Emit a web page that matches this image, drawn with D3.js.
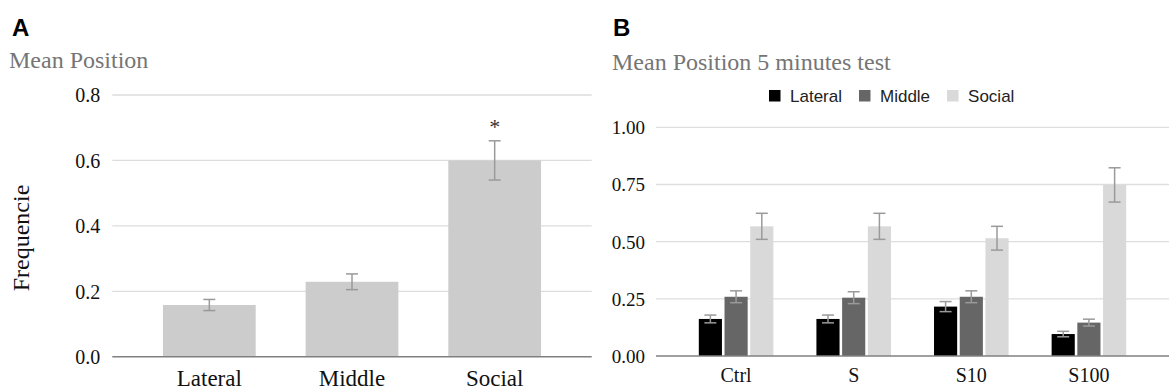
<!DOCTYPE html>
<html>
<head>
<meta charset="utf-8">
<script src="https://cdn.jsdelivr.net/npm/d3@7"></script>
<style>
  html, body { margin: 0; padding: 0; background: #fff; }
  svg { display: block; }
</style>
</head>
<body>
<svg id="chart" width="1173" height="392"></svg>
<script>
// ---------- Data ----------
const catsA = ["Lateral", "Middle", "Social"];
const meanA = [0.158, 0.229, 0.600];
const errA  = [0.017, 0.024, 0.060];
const ticksA = [0, 0.2, 0.4, 0.6, 0.8];

const groupsB = ["Ctrl", "S", "S10", "S100"];
const seriesB = ["Lateral", "Middle", "Social"];
const lateralB    = [0.162, 0.162, 0.216, 0.096];
const lateralErrB = [0.017, 0.017, 0.022, 0.012];
const middleB     = [0.259, 0.255, 0.259, 0.146];
const middleErrB  = [0.026, 0.026, 0.026, 0.015];
const socialB     = [0.567, 0.567, 0.515, 0.748];
const socialErrB  = [0.057, 0.057, 0.052, 0.075];
const ticksB = [0, 0.25, 0.5, 0.75, 1.0];

// ---------- Styling ----------
const SERIF = "'Liberation Serif','Times New Roman',Times,serif";
const SANS  = "'Liberation Sans',Arial,Helvetica,sans-serif";
const colorsB = { Lateral: "#000000", Middle: "#666666", Social: "#d9d9d9" };
const gridColor = "#dddddd";
const axisColor = "#808080";
const errColor = "#9a9a9a";

const svg = d3.select("#chart");

// ================= Panel A =================
const yA = d3.scaleLinear().domain([0, 0.8]).range([356.7, 95]);
const xA = d3.scaleBand().domain(catsA).range([112.3, 591.7])
  .paddingInner(0.35).paddingOuter(0.355);

const gA = svg.append("g");

svg.append("text").attr("x", 12).attr("y", 36)
  .attr("font-family", SANS).attr("font-weight", "bold").attr("font-size", 24)
  .attr("fill", "#000").text("A");
svg.append("text").attr("x", 9).attr("y", 68)
  .attr("font-family", SERIF).attr("font-size", 24)
  .attr("fill", "#757575").text("Mean Position");

// gridlines
gA.selectAll("line.grid").data(ticksA.filter(t => t > 0)).join("line")
  .attr("x1", xA.range()[0]).attr("x2", xA.range()[1])
  .attr("y1", d => yA(d)).attr("y2", d => yA(d))
  .attr("stroke", gridColor).attr("stroke-width", 1.3);

// y axis labels
const axA = d3.axisLeft(yA).tickValues(ticksA).tickFormat(d3.format(".1f")).tickSize(0).tickPadding(12);
const gyA = gA.append("g").attr("transform", `translate(${xA.range()[0]},0)`).call(axA);
gyA.select(".domain").remove();
gyA.attr("font-family", SERIF);
gyA.selectAll("text").attr("font-family", SERIF).attr("font-size", 20).attr("fill", "#111").attr("dy", "0.34em");

// bars
const dataA = catsA.map((c, i) => ({ c, v: meanA[i], e: errA[i] }));
gA.selectAll("rect.bar").data(dataA).join("rect")
  .attr("x", d => xA(d.c)).attr("width", xA.bandwidth())
  .attr("y", d => yA(d.v)).attr("height", d => yA(0) - yA(d.v))
  .attr("fill", "#cccccc");

// error bars
const capA = 12;
dataA.forEach(d => {
  const cx = xA(d.c) + xA.bandwidth() / 2;
  const g = gA.append("g").attr("stroke", errColor).attr("stroke-width", 1.5);
  g.append("line").attr("x1", cx).attr("x2", cx).attr("y1", yA(d.v + d.e)).attr("y2", yA(d.v - d.e));
  g.append("line").attr("x1", cx - capA / 2).attr("x2", cx + capA / 2).attr("y1", yA(d.v + d.e)).attr("y2", yA(d.v + d.e));
  g.append("line").attr("x1", cx - capA / 2).attr("x2", cx + capA / 2).attr("y1", yA(d.v - d.e)).attr("y2", yA(d.v - d.e));
});

// significance star
gA.append("text").attr("x", xA("Social") + xA.bandwidth() / 2).attr("y", yA(meanA[2] + errA[2]) - 7)
  .attr("text-anchor", "middle").attr("font-family", SERIF).attr("font-size", 22)
  .attr("fill", "#333").text("*");

// x axis baseline
gA.append("line").attr("x1", xA.range()[0]).attr("x2", xA.range()[1])
  .attr("y1", yA(0)).attr("y2", yA(0)).attr("stroke", axisColor).attr("stroke-width", 1.6);

// x labels
const axxA = d3.axisBottom(xA).tickSize(0).tickPadding(0);
const gxA = gA.append("g").attr("transform", `translate(0,${yA(0)})`).call(axxA);
gxA.select(".domain").remove();
gxA.attr("font-family", SERIF);
gxA.selectAll("text").attr("font-family", SERIF).attr("font-size", 23).attr("fill", "#111")
  .attr("y", 29.5).attr("dy", 0);

// y title
svg.append("text").attr("transform", "translate(29,238) rotate(-90)")
  .attr("text-anchor", "middle").attr("font-family", SERIF).attr("font-size", 24)
  .attr("fill", "#111").text("Frequencie");

// ================= Panel B =================
const yB = d3.scaleLinear().domain([0, 1]).range([356, 127.3]);
const xB = d3.scaleBand().domain(groupsB).range([656, 1169])
  .paddingInner(0.366).paddingOuter(0.364);
const xBi = d3.scaleBand().domain(seriesB).range([0, xB.bandwidth()]).paddingInner(0.1);

const gB = svg.append("g");

svg.append("text").attr("x", 613).attr("y", 36)
  .attr("font-family", SANS).attr("font-weight", "bold").attr("font-size", 24)
  .attr("fill", "#000").text("B");
svg.append("text").attr("x", 612).attr("y", 70)
  .attr("font-family", SERIF).attr("font-size", 24)
  .attr("fill", "#757575").text("Mean Position 5 minutes test");

// legend
let lx = 769;
seriesB.forEach(s => {
  gB.append("rect").attr("x", lx).attr("y", 90).attr("width", 11.5).attr("height", 11.5)
    .attr("fill", colorsB[s]);
  const t = gB.append("text").attr("x", lx + 21).attr("y", 102)
    .attr("font-family", SANS).attr("font-size", 17).attr("fill", "#222").text(s);
  lx += 21 + t.node().getComputedTextLength() + 17;
});

// gridlines
gB.selectAll("line.grid").data(ticksB.filter(t => t > 0)).join("line")
  .attr("x1", xB.range()[0]).attr("x2", xB.range()[1])
  .attr("y1", d => yB(d)).attr("y2", d => yB(d))
  .attr("stroke", gridColor).attr("stroke-width", 1.3);

const axB = d3.axisLeft(yB).tickValues(ticksB).tickFormat(d3.format(".2f")).tickSize(0).tickPadding(11);
const gyB = gB.append("g").attr("transform", `translate(${xB.range()[0]},0)`).call(axB);
gyB.select(".domain").remove();
gyB.attr("font-family", SERIF);
gyB.selectAll("text").attr("font-family", SERIF).attr("font-size", 19).attr("fill", "#111").attr("dy", "0.34em");

const valsB = { Lateral: lateralB, Middle: middleB, Social: socialB };
const errsB = { Lateral: lateralErrB, Middle: middleErrB, Social: socialErrB };
const dataB = [];
groupsB.forEach((g, gi) => seriesB.forEach(s => dataB.push({ g, s, v: valsB[s][gi], e: errsB[s][gi] })));

gB.selectAll("rect.bar").data(dataB).join("rect")
  .attr("x", d => xB(d.g) + xBi(d.s)).attr("width", xBi.bandwidth())
  .attr("y", d => yB(d.v)).attr("height", d => yB(0) - yB(d.v))
  .attr("fill", d => colorsB[d.s]);

dataB.forEach(d => {
  const cx = xB(d.g) + xBi(d.s) + xBi.bandwidth() / 2;
  const cap = 12;
  const g = gB.append("g").attr("stroke", errColor).attr("stroke-width", 1.5);
  g.append("line").attr("x1", cx).attr("x2", cx).attr("y1", yB(d.v + d.e)).attr("y2", yB(d.v - d.e));
  g.append("line").attr("x1", cx - cap / 2).attr("x2", cx + cap / 2).attr("y1", yB(d.v + d.e)).attr("y2", yB(d.v + d.e));
  g.append("line").attr("x1", cx - cap / 2).attr("x2", cx + cap / 2).attr("y1", yB(d.v - d.e)).attr("y2", yB(d.v - d.e));
});

gB.append("line").attr("x1", xB.range()[0]).attr("x2", xB.range()[1])
  .attr("y1", yB(0)).attr("y2", yB(0)).attr("stroke", axisColor).attr("stroke-width", 1.6);

const axxB = d3.axisBottom(xB).tickSize(0).tickPadding(0);
const gxB = gB.append("g").attr("transform", `translate(0,${yB(0)})`).call(axxB);
gxB.select(".domain").remove();
gxB.attr("font-family", SERIF);
gxB.selectAll("text").attr("font-family", SERIF).attr("font-size", 20).attr("fill", "#111")
  .attr("y", 26).attr("dy", 0);
</script>
</body>
</html>
